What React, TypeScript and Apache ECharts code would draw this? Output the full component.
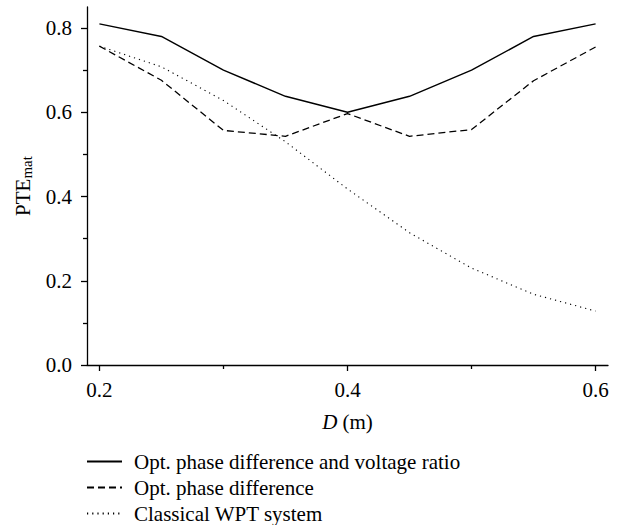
import React, { useEffect, useRef } from "react";
import * as echarts from "echarts";

const distances = [0.2, 0.25, 0.3, 0.35, 0.4, 0.45, 0.5, 0.55, 0.6];
const optPhaseVoltage = [0.81, 0.78, 0.7, 0.638, 0.6, 0.638, 0.7, 0.78, 0.81];
const optPhase = [0.757, 0.676, 0.557, 0.543, 0.597, 0.543, 0.559, 0.675, 0.755];
const classical = [0.757, 0.708, 0.628, 0.53, 0.418, 0.314, 0.23, 0.168, 0.128];

const seriesNames = [
  "Opt. phase difference and voltage ratio",
  "Opt. phase difference",
  "Classical WPT system",
];
const xMajorTicks = [0.2, 0.4, 0.6];
const xMinorTicks = [0.3, 0.5];
const yMajorTicks = [0, 0.2, 0.4, 0.6, 0.8];
const yMinorTicks = [0.1, 0.3, 0.5, 0.7];

const FONT = "'Liberation Serif', 'Times New Roman', serif";
const FS = 21;

export default function App() {
  const ref = useRef<HTMLDivElement>(null);
  useEffect(() => {
    document.body.style.margin = "0";
    if (!ref.current) return;
    const chart = echarts.init(ref.current, undefined, { renderer: "svg" });
    const pair = (ys: number[]) => distances.map((x, i) => [x, ys[i]]);
    const xMin = 0.19, xMax = 0.61, yMin = 0, yMax = 0.85;
    const axisLine = { lineStyle: { color: "#000", width: 1.3 } };
    chart.setOption({
      animation: false,
      textStyle: { fontFamily: FONT, color: "#000" },
      grid: { left: 87, right: 12, top: 7, bottom: 160, containLabel: false },
      xAxis: [
        {
          type: "value",
          min: xMin,
          max: xMax,
          position: "bottom",
          axisLine,
          splitLine: { show: false },
          axisTick: { customValues: xMajorTicks, length: 6, lineStyle: { color: "#000", width: 1.3 } },
          axisLabel: {
            customValues: xMajorTicks,
            color: "#000",
            fontFamily: FONT,
            fontSize: FS,
            margin: 14,
            formatter: (v: number) => v.toFixed(1),
          },
          name: "{i|D} (m)",
          nameLocation: "middle",
          nameGap: 46,
          nameTextStyle: {
            color: "#000",
            fontFamily: FONT,
            fontSize: FS,
            rich: { i: { fontStyle: "italic", fontFamily: FONT, fontSize: FS, color: "#000" } },
          },
        },
        {
          type: "value",
          min: xMin,
          max: xMax,
          position: "bottom",
          axisLine: { show: false },
          splitLine: { show: false },
          axisTick: { customValues: xMinorTicks, length: 4, lineStyle: { color: "#000", width: 1.3 } },
          axisLabel: { show: false },
        },
      ],
      yAxis: [
        {
          type: "value",
          min: yMin,
          max: yMax,
          position: "left",
          axisLine: { show: true, ...axisLine },
          splitLine: { show: false },
          axisTick: { show: true, customValues: yMajorTicks, length: 6, lineStyle: { color: "#000", width: 1.3 } },
          axisLabel: {
            customValues: yMajorTicks,
            color: "#000",
            fontFamily: FONT,
            fontSize: FS,
            margin: 15,
            formatter: (v: number) => v.toFixed(1),
          },
          name: "{n|PTE}{s|mat}",
          nameLocation: "middle",
          nameRotate: 90,
          nameGap: 49,
          nameTextStyle: {
            color: "#000",
            fontFamily: FONT,
            fontSize: FS,
            rich: {
              n: { fontFamily: FONT, fontSize: FS, color: "#000" },
              s: { fontFamily: FONT, fontSize: 15, color: "#000", verticalAlign: "bottom", padding: [8, 0, 0, 0] },
            },
          },
        },
        {
          type: "value",
          min: yMin,
          max: yMax,
          position: "left",
          axisLine: { show: false },
          splitLine: { show: false },
          axisTick: { show: true, customValues: yMinorTicks, length: 4, lineStyle: { color: "#000", width: 1.3 } },
          axisLabel: { show: false },
        },
      ],
      legend: {
        orient: "vertical",
        left: 86,
        top: 451,
        padding: 0,
        itemWidth: 35,
        itemHeight: 14,
        itemGap: 5,
        data: seriesNames,
        itemStyle: { color: "transparent", borderWidth: 0, opacity: 0 },
        textStyle: { color: "#000", fontFamily: FONT, fontSize: FS, padding: [0, 0, 0, 7] },
      },
      series: [
        {
          name: seriesNames[0],
          type: "line",
          data: pair(optPhaseVoltage),
          symbol: "none",
          lineStyle: { color: "#000", width: 1.4, type: "solid" },
          itemStyle: { color: "#000" },
        },
        {
          name: seriesNames[1],
          type: "line",
          data: pair(optPhase),
          symbol: "none",
          lineStyle: { color: "#000", width: 1.3, type: [7, 4] },
          itemStyle: { color: "#000" },
        },
        {
          name: seriesNames[2],
          type: "line",
          data: pair(classical),
          symbol: "none",
          lineStyle: { color: "#000", width: 1.1, type: [1.2, 4] },
          itemStyle: { color: "#000" },
        },
      ],
    });
    return () => chart.dispose();
  }, []);
  return <div ref={ref} style={{ width: 620, height: 525 }} />;
}
